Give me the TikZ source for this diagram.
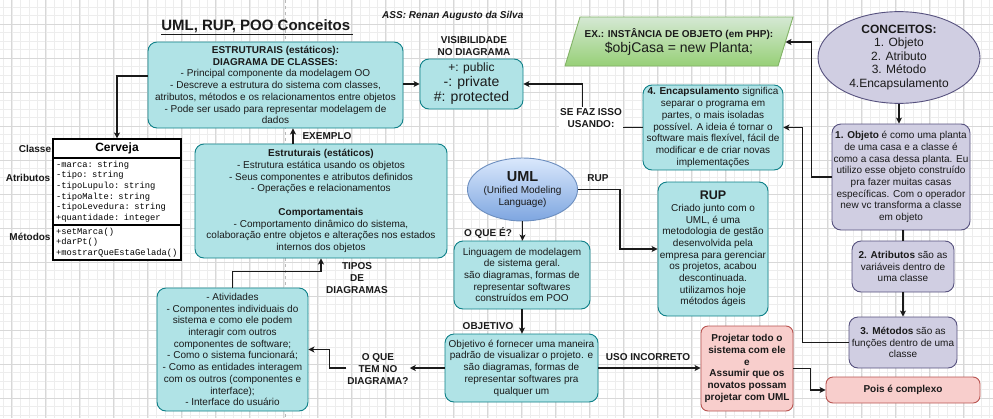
\documentclass[tikz,border=0pt]{standalone}
\usepackage{fontspec}
\setmainfont{Liberation Sans}
\setmonofont{Liberation Mono}
\usetikzlibrary{shapes.geometric,arrows.meta}
\definecolor{tealF}{HTML}{B0E3E6}
\definecolor{tealD}{HTML}{0E8088}
\definecolor{purF}{HTML}{D0CEE2}
\definecolor{purD}{HTML}{56517E}
\definecolor{redF}{HTML}{F8CECC}
\definecolor{redD}{HTML}{B85450}
\definecolor{grnT}{HTML}{D5E8D4}
\definecolor{grnB}{HTML}{97D077}
\definecolor{grnD}{HTML}{82B366}
\definecolor{bluT}{HTML}{DAE8FC}
\definecolor{bluB}{HTML}{7EA6E0}
\definecolor{bluD}{HTML}{6C8EBF}
\definecolor{gridA}{HTML}{EDEDED}
\definecolor{gridB}{HTML}{D8D8D8}
\definecolor{ink}{HTML}{1A1A1A}
\newcommand\txs{\fontsize{10}{11.7}\selectfont}
\begin{document}
\begin{tikzpicture}[x=1pt,y=-1pt,
  base/.style={align=center,inner sep=1pt,font=\txs,text=ink},
  tbox/.style={base,draw=tealD,fill=tealF,rounded corners=9pt,line width=0.9pt},
  pbox/.style={base,draw=purD,fill=purF,rounded corners=9pt,line width=0.9pt},
  rbox/.style={base,draw=redD,fill=redF,rounded corners=7pt,line width=0.9pt,font=\txs\bfseries},
  lbl/.style={base,font=\txs\bfseries},
  arr/.style={line width=1.1pt,draw=ink,-{Stealth[length=6pt,width=6pt,inset=1.5pt]}},
  ln/.style={line width=1.1pt,draw=ink},
  cls/.style={draw=black,fill=white,line width=1.1pt,inner sep=2pt},
]
\useasboundingbox (0,0) rectangle (993,418);
\fill[white] (0,0) rectangle (993,418);
% grid
\foreach \i in {0,...,116} \draw[gridA,line width=0.4pt] ({3.2+\i*8.5},0) -- ({3.2+\i*8.5},418);
\foreach \i in {0,...,48} \draw[gridA,line width=0.4pt] (0,{7+\i*8.5}) -- (993,{7+\i*8.5});
\foreach \i in {0,...,28} \draw[gridB,line width=0.5pt] ({11.7+\i*34},0) -- ({11.7+\i*34},418);
\foreach \i in {0,...,11} \draw[gridB,line width=0.5pt] (0,{24+\i*34}) -- (993,{24+\i*34});
\draw[gray!55,dashed,line width=0.6pt] (285,0) -- (285,418);

% title
\node[base,font=\fontsize{15}{18}\selectfont\bfseries] (title) at (257,27) {\underline{UML, RUP, POO Conceitos\,}};
\node[base,font=\fontsize{10}{12}\selectfont\bfseries\itshape,anchor=west] (auth) at (381,16) {ASS: Renan Augusto da Silva};

% left column
\node[tbox,minimum width=255,minimum height=86] (A) at (275.5,85)
 {\textbf{ESTRUTURAIS (estáticos):}\\\textbf{DIAGRAMA DE CLASSES:}\\- Principal componente da modelagem OO\\- Descreve a estrutura do sistema com classes,\\atributos, métodos e os relacionamentos entre objetos\\- Pode ser usado para representar modelagem de\\dados};

\node[cls,minimum width=128,minimum height=19,font=\fontsize{12}{14}\selectfont\bfseries] (clsH) at (117,148.5) {Cerveja};
\node[cls,minimum width=128,minimum height=67,text width=122,align=left,font=\ttfamily\fontsize{8.8}{10.7}\selectfont] (clsA) at (117,191.5)
 {-marca: string\\-tipo: string\\-tipoLupulo: string\\-tipoMalte: string\\-tipoLevedura: string\\+quantidade: integer};
\node[cls,minimum width=128,minimum height=35,text width=122,align=left,font=\ttfamily\fontsize{8.8}{10.7}\selectfont] (clsM) at (117,242.5)
 {+setMarca()\\+darPt()\\+mostrarQueEstaGelada()};
\node[lbl] (lCl) at (35,149) {Classe};
\node[lbl] (lAt) at (28,178) {Atributos};
\node[lbl] (lMe) at (30,237) {Métodos};

\node[tbox,minimum width=252,minimum height=114] (E) at (321,201)
 {\textbf{Estruturais (estáticos)}\\- Estrutura estática usando os objetos\\- Seus componentes e atributos definidos\\- Operações e relacionamentos\\[11.7pt]\textbf{Comportamentais}\\- Comportamento dinâmico do sistema,\\colaboração entre objetos e alterações nos estados\\internos dos objetos};

\node[tbox,minimum width=151,minimum height=123] (T) at (232.5,349.5)
 {- Atividades\\- Componentes individuais do\\sistema e como ele podem\\interagir com outros\\componentes de software;\\- Como o sistema funcionará;\\- Como as entidades interagem\\com os outros (componentes e\\interface);\\- Interface do usuário};

% visibility
\node[lbl] (visL) at (474,46) {VISIBILIDADE\\NO DIAGRAMA};
\node[tbox,minimum width=103,minimum height=50,font=\fontsize{14}{15}\selectfont] (V) at (471.5,84)
 {{\fontsize{12}{15}\selectfont +: public}\\-: private\\\#: protected};

% green parallelogram
\shade[top color=grnT,bottom color=grnB,draw=grnD,line width=0.9pt] (580,17) -- (793,17) -- (778,66) -- (565,66) -- cycle;
\node[base] (X) at (679,42) {\textbf{EX.: INSTÂNCIA DE OBJETO (em PHP):}\\[1pt]{\fontsize{14}{15}\selectfont \$objCasa = new Planta;}};
\coordinate (Xr) at (785.5,42);

% encapsulamento
\node[tbox,minimum width=140,minimum height=85] (Enc) at (713,127.5)
 {\textbf{4. Encapsulamento} significa\\separar o programa em\\partes, o mais isoladas\\possível. A ideia é tornar o\\software mais flexível, fácil de\\modificar e de criar novas\\implementações};

% UML
\node[ellipse,draw=bluD,top color=bluT,bottom color=bluB,line width=0.9pt,minimum width=101,minimum height=63,inner sep=0pt,align=center,font=\txs,text=ink] (U) at (522.5,189.5)
 {{\fontsize{14.5}{17}\selectfont\bfseries UML}\\(Unified Modeling\\Language)};

\node[tbox,minimum width=136,minimum height=68] (Q) at (522,275)
 {Linguagem de modelagem\\de sistema geral.\\são diagramas, formas de\\representar softwares\\construídos em POO};

\node[tbox,minimum width=110,minimum height=134] (R) at (713,249)
 {{\fontsize{12.5}{14}\selectfont\bfseries RUP}\\Criado junto com o\\UML, é uma\\metodologia de gestão\\desenvolvida pela\\empresa para gerenciar\\os projetos, acabou\\descontinuada.\\utilizamos hoje\\métodos ágeis};

\node[tbox,minimum width=153,minimum height=68] (O) at (521.5,368)
 {Objetivo é fornecer uma maneira\\padrão de visualizar o projeto. e\\são diagramas, formas de\\representar softwares pra\\qualquer um};

\node[rbox,minimum width=92,minimum height=85] (P) at (747,368.5)
 {Projetar todo o\\sistema com ele\\e\\Assumir que os\\novatos possam\\projetar com UML};

% right column
\node[ellipse,draw=purD,fill=purF,line width=0.9pt,minimum width=162,minimum height=85,inner sep=0pt,align=center,font=\fontsize{12}{13.5}\selectfont,text=ink] (C) at (899,57.5)
 {\textbf{CONCEITOS:}\\1. Objeto\\2. Atributo\\3. Método\\4.Encapsulamento};
\node[pbox,minimum width=138,minimum height=106] (Ob) at (901,177)
 {\textbf{1. Objeto} é como uma planta\\de uma casa e a classe é\\como a casa dessa planta. Eu\\utilizo esse objeto construído\\pra fazer muitas casas\\específicas. Com o operador\\new vc transforma a classe\\em objeto};
\node[pbox,minimum width=102,minimum height=51] (At) at (903,266.5)
 {\textbf{2. Atributos} são as\\variáveis dentro de\\uma classe};
\node[pbox,minimum width=108,minimum height=51] (Me) at (903,342.5)
 {\textbf{3. Métodos} são as\\funções dentro de uma\\classe};
\node[rbox,minimum width=154,minimum height=26] (Po) at (903,390) {Pois é complexo};

% free labels
\node[lbl] (lEx) at (327,136) {EXEMPLO};
\node[lbl] (lTi) at (357,278) {TIPOS\\DE\\DIAGRAMAS};
\node[lbl] (lOq) at (378,369) {O QUE\\TEM NO\\DIAGRAMA?};
\node[lbl] (lQe) at (488,233) {O QUE É?};
\node[lbl] (lOj) at (488,326) {OBJETIVO};
\node[lbl] (lUi) at (648,357) {USO INCORRETO};
\node[lbl] (lRu) at (598,178) {RUP};

% connectors
\coordinate (exA) at (293,0);
\draw[arr] ([yshift=9pt]A.west) -| (clsH.north);
\draw[arr] (A.east |- V.west) -- (V.west);
\draw[arr] (Enc.west) -- ++(-60,0) |- (V.east);
\node[lbl,fill=white,inner sep=1.5pt] (lSe) at (591,118) {SE FAZ ISSO\\USANDO:};
\draw[arr] (Ob.west) -- ++(-20,0) |- (Xr);
\draw[arr] (Me.west) -- ++(-46,0) |- (Enc.east);
\draw[arr] (C.south) -- (C.south |- Ob.north);
\draw[ln] (Ob.south -| At.north) -- (At.north);
\draw[arr] (At.south) -- (Me.north);
\draw[arr] (P.east) -- ++(17,0) |- (Po.west);
\draw[arr] (O.east) -- (O.east -| P.west);
\draw[arr] (Q.south) -- (Q.south |- O.north);
\draw[arr] (U.south) -- (U.south |- Q.north);
\draw[arr] (U.east) -- ++(42,0) |- (R.west);
\draw[arr] (O.west) -- (lOq.east |- O.west);
\draw[arr] (lOq.west |- O.west) -- ++(-17,0) |- (T.east);
\draw[arr] (T.north) -- ++(0,-16) -| (E.south);
\draw[arr] (E.north -| exA) -- (A.south -| exA);
\end{tikzpicture}
\end{document}
